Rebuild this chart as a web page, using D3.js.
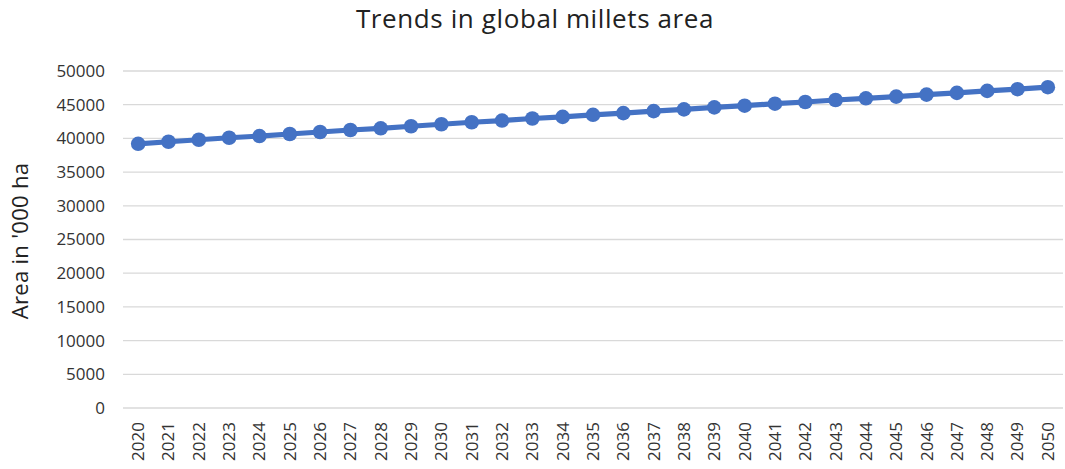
<!DOCTYPE html>
<html>
<head>
<meta charset="utf-8">
<script src="https://cdn.jsdelivr.net/npm/d3@7"></script>
<style>
  html, body { margin: 0; padding: 0; background: #fff; }
  svg { display: block; font-family: "Open Sans", "Noto Sans", sans-serif; }
</style>
</head>
<body>
<svg id="chart" width="1065" height="469"></svg>
<script>
// Projected global millets area, thousand hectares
const years = [2020, 2021, 2022, 2023, 2024, 2025, 2026, 2027, 2028, 2029,
               2030, 2031, 2032, 2033, 2034, 2035, 2036, 2037, 2038, 2039,
               2040, 2041, 2042, 2043, 2044, 2045, 2046, 2047, 2048, 2049, 2050];
const area = [39200, 39500, 39800, 40100, 40350, 40650, 40950, 41250, 41500, 41800,
              42100, 42400, 42650, 42950, 43200, 43500, 43750, 44050, 44300, 44600,
              44850, 45150, 45400, 45700, 45950, 46200, 46500, 46750, 47050, 47300, 47600];
const yTicks = [0, 5000, 10000, 15000, 20000, 25000, 30000, 35000, 40000, 45000, 50000];

const svg = d3.select("#chart");
const margin = { left: 123, right: 2, top: 71, bottom: 61 };
const W = 1065, H = 469;

const x = d3.scaleBand()
  .domain(years.map(String))
  .range([margin.left, W - margin.right])
  .padding(0);

const y = d3.scaleLinear()
  .domain([0, 50000])
  .range([H - margin.bottom, margin.top]);

// gridlines
svg.append("g")
  .selectAll("line")
  .data(yTicks)
  .join("line")
  .attr("x1", margin.left)
  .attr("x2", W - margin.right)
  .attr("y1", d => y(d))
  .attr("y2", d => y(d))
  .attr("stroke", "#d9d9d9")
  .attr("stroke-width", 1.3);

// y axis labels
const yAxis = svg.append("g")
  .attr("transform", `translate(${margin.left - 18},0)`)
  .call(d3.axisLeft(y).tickValues(yTicks).tickFormat(d3.format("d")).tickSize(0).tickPadding(0));
yAxis.select(".domain").remove();
yAxis.selectAll("text")
  .attr("font-size", 17)
  .attr("fill", "#333")
  .attr("font-family", "'Open Sans', sans-serif");

// x axis labels, rotated
const xAxis = svg.append("g")
  .attr("transform", `translate(0,${H - margin.bottom + 14})`)
  .call(d3.axisBottom(x).tickSize(0).tickPadding(0));
xAxis.select(".domain").remove();
xAxis.selectAll("text")
  .attr("font-size", 17)
  .attr("fill", "#333")
  .attr("font-family", "'Open Sans', sans-serif")
  .attr("transform", "rotate(-90)")
  .attr("text-anchor", "end")
  .attr("dx", 0)
  .attr("dy", "0.35em")
  .attr("x", 0)
  .attr("y", 0);

// line
const line = d3.line()
  .x((d, i) => x(String(years[i])) + x.bandwidth() / 2)
  .y(d => y(d));

svg.append("path")
  .datum(area)
  .attr("d", line)
  .attr("fill", "none")
  .attr("stroke", "#4472c4")
  .attr("stroke-width", 5.2)
  .attr("stroke-linejoin", "round");

svg.append("g")
  .selectAll("circle")
  .data(area)
  .join("circle")
  .attr("cx", (d, i) => x(String(years[i])) + x.bandwidth() / 2)
  .attr("cy", d => y(d))
  .attr("r", 7.3)
  .attr("fill", "#4472c4");

// title
svg.append("text")
  .attr("x", 535)
  .attr("y", 28)
  .attr("text-anchor", "middle")
  .attr("font-size", 26)
  .attr("letter-spacing", 0.6)
  .attr("fill", "#222")
  .text("Trends in global millets area");

// y axis title
svg.append("text")
  .attr("transform", `translate(28,241) rotate(-90)`)
  .attr("text-anchor", "middle")
  .attr("font-size", 22)
  .attr("letter-spacing", 0.3)
  .attr("fill", "#222")
  .text("Area in '000 ha");
</script>
</body>
</html>
